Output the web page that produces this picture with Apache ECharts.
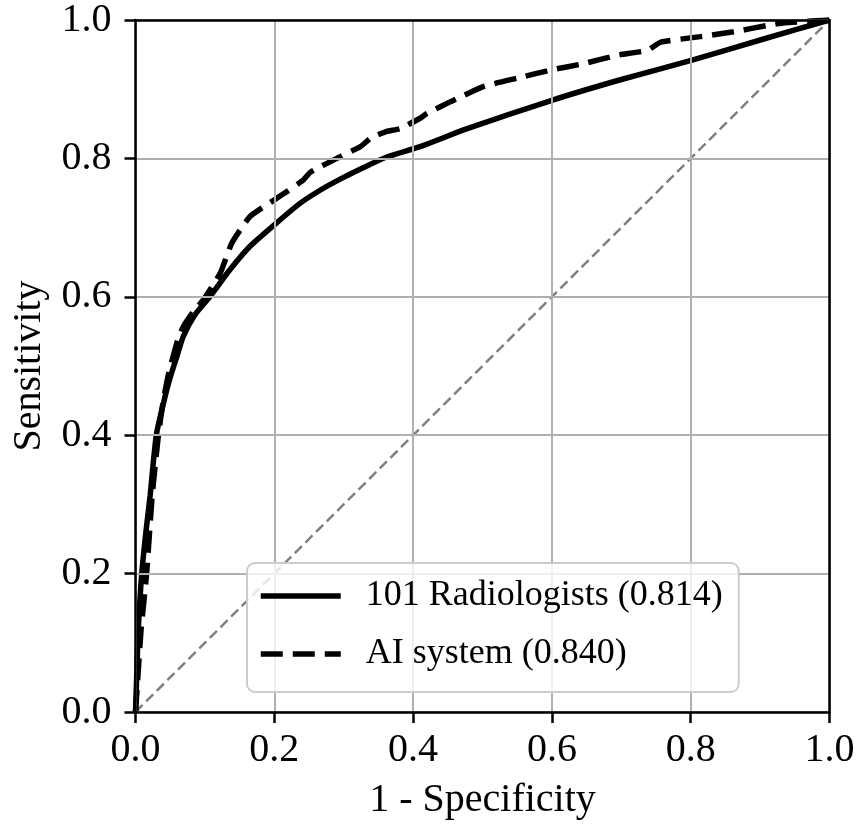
<!DOCTYPE html>
<html>
<head>
<meta charset="utf-8">
<script src="https://cdn.jsdelivr.net/npm/echarts@6/dist/echarts.min.js"></script>
<style>
html,body{margin:0;padding:0;background:#fff;}
#chart{width:860px;height:825px;}
</style>
</head>
<body>
<div id="chart"></div>
<script>
var xTicks = [0, 0.2, 0.4, 0.6, 0.8, 1.0];
var yTicks = [0, 0.2, 0.4, 0.6, 0.8, 1.0];

var seriesNames = ['101 Radiologists (0.814)', 'AI system (0.840)'];

var radFpr = [0, 0.002, 0.004, 0.009, 0.015, 0.021, 0.030, 0.040, 0.049, 0.06, 0.069, 0.085, 0.107, 0.136, 0.165, 0.2, 0.237, 0.266, 0.295, 0.325, 0.362, 0.41, 0.478, 0.6, 0.7, 0.802, 0.91, 1.0];
var radTpr = [0, 0.06, 0.119, 0.2, 0.26, 0.312, 0.4, 0.445, 0.48, 0.515, 0.543, 0.573, 0.6, 0.639, 0.673, 0.704, 0.735, 0.754, 0.77, 0.785, 0.802, 0.817, 0.843, 0.884, 0.914, 0.942, 0.974, 1.0];

var aiFpr = [0, 0.004, 0.008, 0.016, 0.024, 0.033, 0.040, 0.048, 0.061, 0.069, 0.083, 0.098, 0.122, 0.139, 0.165, 0.203, 0.218, 0.242, 0.252, 0.29, 0.324, 0.34, 0.362, 0.381, 0.41, 0.42, 0.454, 0.502, 0.55, 0.6, 0.646, 0.694, 0.737, 0.757, 0.814, 0.862, 0.91, 0.935, 1.0];
var aiTpr = [0, 0.06, 0.119, 0.2, 0.312, 0.4, 0.45, 0.49, 0.538, 0.557, 0.578, 0.596, 0.634, 0.678, 0.716, 0.742, 0.752, 0.769, 0.78, 0.800, 0.817, 0.83, 0.839, 0.843, 0.858, 0.865, 0.882, 0.904, 0.916, 0.928, 0.937, 0.949, 0.956, 0.968, 0.976, 0.983, 0.992, 0.996, 1.0];

var chanceX = [0, 1];
var chanceY = [0, 1];

function zip(a, b) { return a.map(function (v, i) { return [v, b[i]]; }); }

var FONT = 'Liberation Serif';
function fmt(v) { return v.toFixed(1); }
var chart = echarts.init(document.getElementById('chart'), null, {renderer: 'canvas'});
chart.setOption({
  animation: false,
  backgroundColor: '#fff',
  grid: {left: 135.5, top: 19, width: 694, height: 694, show: false},
  xAxis: [{
    type: 'value', min: 0, max: 1, interval: 0.2,
    name: '1 - Specificity', nameLocation: 'middle', nameGap: 68,
    nameTextStyle: {fontFamily: FONT, fontSize: 40, color: '#000'},
    axisLine: {show: true, onZero: false, lineStyle: {color: '#000', width: 2.5}},
    axisTick: {show: true, length: 11, lineStyle: {color: '#000', width: 2.5}},
    axisLabel: {fontFamily: FONT, fontSize: 40, color: '#000', margin: 18, formatter: fmt},
    splitLine: {show: true, lineStyle: {color: '#b0b0b0', width: 2}},
    z: 5
  }, {
    type: 'value', min: 0, max: 1, position: 'top',
    axisLine: {show: true, onZero: false, lineStyle: {color: '#000', width: 2.5}},
    axisTick: {show: false}, axisLabel: {show: false}, splitLine: {show: false},
    z: 5
  }],
  yAxis: [{
    type: 'value', min: 0, max: 1, interval: 0.2,
    name: 'Sensitivity', nameLocation: 'middle', nameGap: 86,
    nameTextStyle: {fontFamily: FONT, fontSize: 40, color: '#000'},
    axisLine: {show: true, onZero: false, lineStyle: {color: '#000', width: 2.5}},
    axisTick: {show: true, length: 11, lineStyle: {color: '#000', width: 2.5}},
    axisLabel: {fontFamily: FONT, fontSize: 40, color: '#000', margin: 24, formatter: fmt},
    splitLine: {show: true, lineStyle: {color: '#b0b0b0', width: 2}},
    z: 5
  }, {
    type: 'value', min: 0, max: 1, position: 'right',
    axisLine: {show: true, onZero: false, lineStyle: {color: '#000', width: 2.5}},
    axisTick: {show: false}, axisLabel: {show: false}, splitLine: {show: false},
    z: 5
  }],
  legend: {
    data: seriesNames,
    orient: 'vertical',
    left: 247, top: 563,
    padding: [13, 16, 18, 11],
    itemGap: 18,
    itemWidth: 80, itemHeight: 40,
    backgroundColor: 'rgba(255,255,255,0.8)',
    borderColor: '#cccccc', borderWidth: 2, borderRadius: 8,
    itemStyle: {color: 'rgba(0,0,0,0)', borderColor: 'rgba(0,0,0,0)', borderWidth: 0, opacity: 0},
    lineStyle: {width: 5.5},
    textStyle: {fontFamily: FONT, fontSize: 36, color: '#000', padding: [0, 0, 0, 20], lineHeight: 40},
    selectedMode: false,
    z: 10
  },
  series: [
    {
      type: 'line', name: 'chance', data: zip(chanceX, chanceY),
      symbol: 'none', silent: true,
      lineStyle: {color: '#808080', width: 2.5, type: [10, 5]}, z: 2
    },
    {
      type: 'line', name: seriesNames[0], data: zip(radFpr, radTpr),
      symbol: 'none', smooth: 0.25,
      lineStyle: {color: '#000', width: 5.5, type: 'solid'},
      itemStyle: {color: '#000'}, z: 3
    },
    {
      type: 'line', name: seriesNames[1], data: zip(aiFpr, aiTpr),
      symbol: 'none', smooth: 0.15,
      lineStyle: {color: '#000', width: 5.5, type: [22, 10]},
      itemStyle: {color: '#000'}, z: 4
    }
  ]
});
</script>
</body>
</html>
